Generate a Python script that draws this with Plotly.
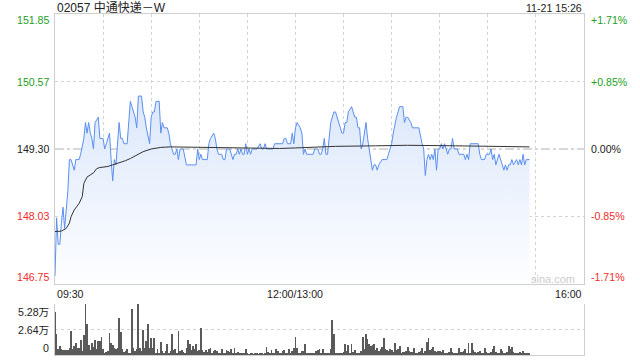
import plotly.graph_objects as go

# ---------------- data ----------------
title_text = "02057 中通快递－W"
stamp_text = "11-21 15:26"
prev_close = 149.30
price_ticks = [151.85, 150.57, 149.30, 148.03, 146.75]
pct_ticks = ["+1.71%", "+0.85%", "0.00%", "-0.85%", "-1.71%"]
time_labels = ["09:30", "12:00/13:00", "16:00"]
time_label_pos = [0, 150, 330]          # trading minutes from 09:30
vol_tick_vals = [52.8, 26.4, 0]          # thousands of shares
vol_tick_text = ["5.28万", "2.64万", "0"]

# minute index (trading minutes since 09:30; 12:00 and 13:00 share index 150)
price_min = [0, 1, 2, 3, 4, 5, 6, 7, 8, 9, 10, 12, 13, 15, 16, 18, 19, 20, 21, 22,
             23, 24, 25, 27, 28, 30, 31, 32, 34, 35, 36, 37, 38, 40, 41, 42, 43, 45, 47, 48,
             50, 51, 52, 54, 55, 56, 57, 59, 60, 61, 62, 63, 65, 66, 67, 68, 70, 71, 72, 74,
             75, 76, 77, 78, 80, 82, 88, 89, 90, 91, 92, 95, 96, 97, 99, 100, 101, 102, 104, 105,
             106, 107, 109, 111, 112, 113, 114, 115, 116, 117, 118, 119, 120, 121, 122, 123, 126, 128, 129, 130,
             131, 132, 136, 137, 142, 143, 144, 145, 147, 148, 149, 150, 151, 153, 154, 155, 156, 157, 161, 162,
             164, 165, 166, 167, 168, 169, 170, 172, 173, 174, 175, 176, 178, 179, 180, 181, 182, 183, 185, 186,
             187, 188, 189, 190, 191, 192, 193, 194, 195, 196, 197, 198, 199, 200, 201, 202, 204, 207, 209, 210,
             211, 213, 215, 216, 217, 218, 219, 220, 222, 223, 227, 229, 230, 231, 232, 233, 234, 235, 236, 237,
             238, 239, 240, 241, 242, 243, 244, 245, 246, 247, 248, 249, 251, 252, 255, 256, 257, 258, 259, 264,
             265, 266, 268, 269, 271, 272, 273, 274, 275, 276, 277, 279, 280, 281, 282, 283, 284, 285, 286, 288,
             289, 290, 291, 292, 293, 294, 296]
price_val = [146.9, 148.0, 147.5, 147.5, 147.9, 148.2, 147.8, 148.2, 148.5, 149.1, 149.1, 148.9, 149.1, 149.1, 149.2, 149.5, 149.8, 149.6, 149.8, 149.6,
             149.5, 149.3, 149.8, 149.9, 149.5, 149.5, 149.3, 149.4, 149.6, 149.1, 148.7, 149.1, 149.0, 149.8, 149.5, 149.5, 149.4, 149.4, 150.2, 150.1,
             149.9, 149.7, 150.3, 150.3, 150.0, 149.9, 149.7, 149.4, 149.9, 150.0, 150.0, 150.2, 150.2, 149.6, 149.8, 149.7, 149.7, 149.6, 149.4, 149.2,
             149.2, 149.3, 149.1, 149.3, 149.3, 149.0, 149.0, 149.3, 149.1, 149.2, 149.1, 149.1, 149.4, 149.5, 149.6, 149.5, 149.3, 149.2, 149.2, 149.1,
             149.1, 149.3, 149.3, 149.1, 149.2, 149.2, 149.3, 149.2, 149.3, 149.2, 149.2, 149.4, 149.2, 149.3, 149.2, 149.3, 149.3, 149.4, 149.3, 149.3,
             149.4, 149.3, 149.3, 149.4, 149.4, 149.5, 149.5, 149.4, 149.4, 149.6, 149.4, 149.7, 149.8, 149.7, 149.6, 149.2, 149.3, 149.2, 149.2, 149.3,
             149.3, 149.2, 149.2, 149.3, 149.5, 149.2, 149.2, 149.8, 149.9, 150.0, 150.0, 149.9, 149.7, 149.6, 149.6, 149.8, 149.8, 150.0, 150.1, 150.0,
             149.9, 149.9, 149.7, 149.7, 149.3, 149.4, 149.6, 149.8, 149.5, 149.3, 149.1, 148.9, 149.0, 149.0, 148.9, 149.0, 149.1, 149.1, 149.3, 149.4,
             149.6, 149.9, 150.1, 150.1, 150.1, 149.8, 149.9, 149.9, 149.8, 149.7, 149.7, 149.4, 149.3, 148.8, 149.1, 149.2, 149.1, 149.2, 149.1, 149.3,
             148.9, 149.3, 149.3, 149.4, 149.3, 149.4, 149.3, 149.2, 149.3, 149.3, 149.5, 149.3, 149.3, 149.2, 149.2, 149.1, 149.2, 149.1, 149.4, 149.4,
             149.2, 149.1, 149.1, 149.2, 149.2, 149.3, 149.1, 149.2, 149.0, 149.1, 149.2, 149.0, 148.9, 149.0, 148.9, 149.0, 149.0, 149.1, 149.0, 149.1,
             149.0, 149.1, 149.0, 149.2, 149.0, 149.1, 149.1]

avg_min = [0, 4, 7, 9, 10, 12, 15, 17, 18, 20, 22, 24, 26, 28, 33, 36, 40, 44, 47, 51,
           55, 60, 66, 72, 90, 110, 140, 150, 175, 200, 220, 250, 280, 296]
avg_val = [147.74, 147.75, 147.80, 147.90, 148.02, 148.15, 148.27, 148.40, 148.65, 148.77,
           148.81, 148.85, 148.93, 148.95, 148.97, 149.00, 149.03, 149.08, 149.12, 149.19,
           149.25, 149.30, 149.33, 149.34, 149.33, 149.32, 149.31, 149.32, 149.35, 149.36,
           149.37, 149.36, 149.35, 149.34]

# volume per minute, thousands of shares (minutes 0..296)
vol_k = [45, 21.5, 6, 9, 6, 5, 5, 5, 5, 7.5, 25, 6, 9, 12, 7, 7, 16, 4, 21, 52.5,
         32.6, 10, 5, 12.8, 8, 16, 6, 14.6, 15, 19, 6, 2.4, 3.5, 4.2, 23, 12.8, 10.4, 7.6, 6, 7,
         37.8, 24, 6, 3.5, 4.2, 6, 1.7, 2.4, 47.5, 7, 4.2, 6, 52.7, 7, 4.2, 25.7, 7.6, 14.6, 31.9, 7.6,
         18, 7.6, 17.3, 2.4, 5.9, 2.4, 13.9, 4.2, 2.4, 4.2, 11.8, 2.4, 4.2, 22.2, 4.9, 5.9, 2.4, 25, 4.2, 5.2,
         3.5, 1.7, 7.6, 15.3, 11.8, 4.9, 9.4, 5.9, 11.1, 4.2, 4.9, 27.8, 5.2, 3.5, 4.9, 3.5, 5.9, 7.6, 2.4, 4.2,
         5.6, 4.2, 1.7, 2.4, 5.9, 2.4, 2.4, 5.2, 4.2, 3.5, 5.9, 1.7, 7.6, 1.7, 3.1, 2.4, 1.7, 1.4, 1.4, 5.9,
         1.2, 1.0, 1.4, 1.2, 1.0, 1.2, 1.4, 1.0, 1.2, 1.4, 1.0, 1.2, 8.3, 3.5, 1.4, 4.9, 2.4, 2.4, 5.9, 4.2,
         1.4, 2.4, 4.2, 5.2, 2.4, 1.4, 5.9, 2.4, 4.2, 7.6, 18.4, 7.6, 2.4, 2.4, 4.2, 4.2, 11.1, 2.4, 2.4, 2.4,
         1.4, 2.4, 1.4, 4.2, 5.2, 6.6, 2.4, 6.6, 2.4, 1.4, 1.4, 2.4, 6.6, 36, 21.5, 1.4, 1.4, 1.4, 2.4, 2.4,
         3.1, 11.1, 4.2, 10.1, 2.4, 11.1, 3.1, 5.2, 2.4, 1.4, 2.4, 4.2, 19, 5.9, 21.5, 16.3, 11.1, 9.4, 10.1, 11.1,
         4.9, 7.6, 4.2, 5.9, 8.3, 17.3, 5.9, 5.2, 4.2, 5.9, 4.9, 3.5, 12.8, 4.9, 5.9, 9.4, 2.4, 3.1, 3.1, 4.2,
         8.3, 4.2, 3.1, 3.5, 7.6, 2.4, 1.4, 3.1, 4.2, 7.6, 2.4, 4.2, 13.9, 18, 4.9, 5.9, 8.3, 4.2, 3.1, 4.2,
         4.2, 3.1, 5.2, 1.4, 1.4, 2.4, 3.1, 7.6, 3.1, 1.4, 2.4, 1.4, 7.6, 3.5, 3.1, 4.2, 5.9, 2.4, 12.1, 1.4,
         12.8, 5.2, 3.5, 2.4, 3.1, 4.2, 1.4, 2.4, 7.6, 3.1, 2.4, 1.4, 3.1, 5.9, 9.4, 3.1, 2.4, 2.4, 5.9, 4.2,
         2.4, 1.4, 3.1, 9.4, 5.9, 8.7, 3.5, 2.4, 2.4, 2.4, 3.5, 2.4, 4.2, 2.4, 2.4, 2.4, 1.4]
vol_min = list(range(len(vol_k)))

# ---------------- styling ----------------
W, H = 640, 360
L, R = 55, 584            # plot box left/right pixels
MT, MB = 14, 284          # main panel top/bottom
VT, VB = 304, 355         # volume panel top/bottom
FONT = "Liberation Sans, Arial, Noto Sans CJK SC"
GREEN, RED, DARK = "#22a022", "#f02c2c", "#222222"
GRID = "#d4d4d4"
BORDER = "#cfcfcf"

px = lambda v: v / W
py = lambda v: (H - v) / H

fig = go.Figure()
fig.add_trace(go.Scatter(
    x=price_min, y=price_val, mode="lines",
    line=dict(color="#5b8ff0", width=1),
    fill="tozeroy",
    fillgradient=dict(type="vertical", start=146.75, stop=150.6,
                      colorscale=[[0, "rgb(253,254,255)"], [1, "rgb(216,229,250)"]]),
    hoverinfo="skip", xaxis="x", yaxis="y"))
fig.add_trace(go.Scatter(
    x=avg_min, y=avg_val, mode="lines", line=dict(color="#333333", width=1),
    hoverinfo="skip", xaxis="x", yaxis="y"))
fig.add_trace(go.Bar(
    x=vol_min, y=vol_k, width=0.5, marker=dict(color="#5a5a5a", line=dict(width=0)),
    hoverinfo="skip", xaxis="x2", yaxis="y2"))

common_x = dict(domain=[px(L), px(R)], range=[0, 330], zeroline=False,
                showticklabels=False, ticks="", fixedrange=True)
fig.update_layout(
    width=W, height=H, autosize=False,
    margin=dict(l=0, r=0, t=0, b=0),
    paper_bgcolor="white", plot_bgcolor="white",
    showlegend=False, bargap=0,
    xaxis=dict(**common_x, anchor="y", tickvals=list(range(0, 331, 30)),
               showgrid=True, gridcolor=GRID, griddash="dot", gridwidth=1,
               showline=True, linecolor=BORDER, linewidth=1, mirror=True),
    yaxis=dict(domain=[py(MB), py(MT)], range=[146.75, 151.85], anchor="x",
               tickvals=[148.03, 150.57], showticklabels=False, ticks="",
               showgrid=True, gridcolor=GRID, griddash="dot", gridwidth=1,
               zeroline=False, showline=True, linecolor=BORDER, linewidth=1, mirror=True),
    xaxis2=dict(**common_x, anchor="y2", showgrid=False,
                showline=True, linecolor=BORDER, linewidth=1, mirror=False),
    yaxis2=dict(domain=[py(VB), py(VT)], range=[0, 52.8], anchor="x2",
                tickvals=[26.4, 52.8], showticklabels=False, ticks="",
                showgrid=True, gridcolor=GRID, griddash="dot", gridwidth=1,
                zeroline=False, showline=True, linecolor=BORDER, linewidth=1, mirror=True),
)

# previous close reference line
fig.add_shape(type="line", xref="x", yref="y", x0=0, x1=330, y0=prev_close, y1=prev_close,
              line=dict(color="#b0b0b0", width=1, dash="dashdot"), layer="below")

ann = []
def color_for(i):
    return GREEN if i < 2 else (DARK if i == 2 else RED)

shifts = [-6, 0, 0, 0, 7]
for i, (v, t) in enumerate(zip(price_ticks, pct_ticks)):
    ann.append(dict(x=px(52), xref="paper", y=v, yref="y", text=f"{v:.2f}",
                    xanchor="right", yanchor="middle", yshift=shifts[i], showarrow=False,
                    font=dict(family=FONT, size=10.6, color=color_for(i))))
    ann.append(dict(x=px(589), xref="paper", y=v, yref="y", text=t,
                    xanchor="left", yanchor="middle", yshift=shifts[i], showarrow=False,
                    font=dict(family=FONT, size=10.6, color=color_for(i))))

vshift = [-7.5, 0, 7]
for v, t, s in zip(vol_tick_vals, vol_tick_text, vshift):
    ann.append(dict(x=px(51), xref="paper", y=v, yref="y2", text=t, xanchor="right",
                    yanchor="middle", yshift=s, showarrow=False,
                    font=dict(family=FONT, size=10.6, color=DARK)))

anchors = ["left", "center", "right"]
for t, p, a in zip(time_labels, time_label_pos, anchors):
    ann.append(dict(x=p, xref="x", y=py(293.5), yref="paper", text=t, xanchor=a,
                    yanchor="middle", showarrow=False,
                    font=dict(family=FONT, size=10.6, color=DARK)))

ann.append(dict(x=px(L), xref="paper", y=py(7.5), yref="paper", text=title_text,
                xanchor="left", yanchor="middle", showarrow=False,
                font=dict(family=FONT, size=12, color=DARK)))
ann.append(dict(x=px(R), xref="paper", y=py(7.5), yref="paper", text=stamp_text,
                xanchor="right", yanchor="middle", showarrow=False,
                font=dict(family=FONT, size=10.6, color=DARK)))
ann.append(dict(x=px(577), xref="paper", y=py(279), yref="paper", text="sina.com",
                xanchor="right", yanchor="middle", showarrow=False,
                font=dict(family=FONT, size=11, color="#cccccc")))
fig.update_layout(annotations=ann)

fig.write_html("out.html", config={"displayModeBar": False})
